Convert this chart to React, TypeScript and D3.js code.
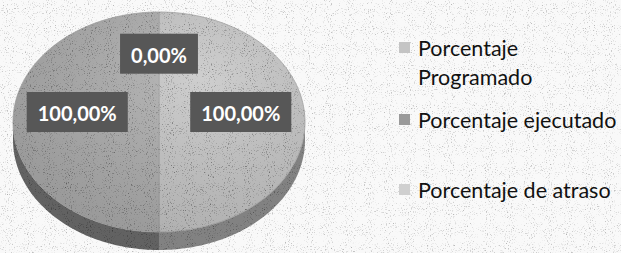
import { useEffect, useRef } from 'react';
import * as d3 from 'd3';

const categories = ['Porcentaje Programado', 'Porcentaje ejecutado', 'Porcentaje de atraso'];
const values = [100, 100, 0];
const labels = ['100,00%', '100,00%', '0,00%'];
const legendLines = [['Porcentaje', 'Programado'], ['Porcentaje ejecutado'], ['Porcentaje de atraso']];
const topColors = ['#c6c6c6', '#adadad', '#bdbdbd'];
const sideColors = ['#828282', '#626262', '#7a7a7a'];
const legendColors = ['#c4c4c4', '#9a9a9a', '#cfcfcf'];

const App = () => {
    const svgRef = useRef(null);
    const width = 621;
    const height = 253;
    const cx = 159, cy = 122, rx = 146, ry = 110, depth = 18;

    useEffect(() => {
        const svg = d3.select(svgRef.current);
        svg.selectAll('*').remove();

        const defs = svg.append('defs');
        const f = defs.append('filter').attr('id', 'noise').attr('x', 0).attr('y', 0).attr('width', '100%').attr('height', '100%');
        f.append('feTurbulence').attr('type', 'fractalNoise').attr('baseFrequency', 0.95).attr('numOctaves', 2).attr('seed', 3);
        f.append('feColorMatrix').attr('type', 'matrix')
            .attr('values', '0 0 0 0 0  0 0 0 0 0  0 0 0 0 0  -3.2 0 0 0 1.3');

        const shade = defs.append('radialGradient').attr('id', 'shade')
            .attr('cx', '0.65').attr('cy', '0.3').attr('r', '0.8');
        shade.append('stop').attr('offset', '0%').attr('stop-color', '#fff').attr('stop-opacity', 0.15);
        shade.append('stop').attr('offset', '100%').attr('stop-color', '#000').attr('stop-opacity', 0.12);

        svg.append('rect').attr('width', width).attr('height', height).attr('fill', '#f9f9f9');
        svg.append('rect').attr('width', width).attr('height', height).attr('filter', 'url(#noise)').attr('opacity', 0.3);

        const pie = d3.pie().sort(null).value(d => d);
        const arcs = pie(values);

        const px = (a, dy = 0) => [cx + rx * Math.sin(a), cy - ry * Math.cos(a) + dy];
        const arcPts = (a0, a1, dy = 0) => {
            const n = Math.max(2, Math.ceil(Math.abs(a1 - a0) / 0.02));
            return d3.range(n + 1).map(i => px(a0 + (a1 - a0) * i / n, dy));
        };
        const line = d3.line();

        const g = svg.append('g');

        // side walls (front half only)
        arcs.forEach((d, i) => {
            const s = Math.max(d.startAngle, Math.PI / 2);
            const e = Math.min(d.endAngle, Math.PI * 1.5);
            if (e <= s) return;
            const pts = arcPts(s, e).concat(arcPts(e, s, depth));
            g.append('path').attr('d', line(pts) + 'Z').attr('fill', sideColors[i]);
        });

        // top faces
        arcs.forEach((d, i) => {
            if (d.endAngle - d.startAngle <= 0) return;
            const pts = [[cx, cy]].concat(arcPts(d.startAngle, d.endAngle));
            g.append('path').attr('d', line(pts) + 'Z').attr('fill', topColors[i])
                .attr('stroke', '#a0a0a0').attr('stroke-width', 0.8);
        });
        g.append('ellipse').attr('cx', cx).attr('cy', cy).attr('rx', rx).attr('ry', ry).attr('fill', 'url(#shade)');

        // grain on the pie
        const clip = defs.append('clipPath').attr('id', 'pieclip');
        clip.append('ellipse').attr('cx', cx).attr('cy', cy).attr('rx', rx).attr('ry', ry);
        clip.append('path').attr('d', line(arcPts(Math.PI / 2, Math.PI * 1.5).concat(arcPts(Math.PI * 1.5, Math.PI / 2, depth))) + 'Z');
        g.append('rect').attr('width', width).attr('height', height).attr('filter', 'url(#noise)')
            .attr('clip-path', 'url(#pieclip)').attr('opacity', 0.45);

        // data labels
        arcs.forEach((d, i) => {
            const mid = (d.startAngle + d.endAngle) / 2;
            const k = d.endAngle - d.startAngle > 0 ? 0.56 : 0.53;
            const [lx, ly] = [cx + rx * k * Math.sin(mid), cy - ry * k * Math.cos(mid) - 9];
            const t = g.append('text').text(labels[i])
                .attr('x', lx).attr('y', ly).attr('text-anchor', 'middle').attr('dominant-baseline', 'central')
                .attr('font-family', 'Lato, sans-serif').attr('font-weight', 700).attr('font-size', 20)
                .attr('fill', '#fff');
            const bb = t.node().getBBox();
            g.insert('rect', 'text').attr('x', bb.x - 11).attr('y', bb.y - 9).attr('width', bb.width + 22).attr('height', bb.height + 16)
                .attr('fill', '#575757');
        });
        g.selectAll('text').raise();

        // legend
        const legendY = [48, 120, 190];
        const lg = svg.append('g');
        categories.forEach((c, i) => {
            lg.append('rect').attr('x', 399).attr('y', legendY[i] - 6).attr('width', 11).attr('height', 11)
                .attr('fill', legendColors[i]);
            legendLines[i].forEach((l, j) => {
                lg.append('text').text(l).attr('x', 418).attr('y', legendY[i] + j * 29)
                    .attr('dominant-baseline', 'central')
                    .attr('font-family', 'Lato, sans-serif').attr('font-size', 21.5).attr('fill', '#111');
            });
        });
    }, []);

    return (
        <div style={{ position: 'fixed', left: 0, top: 0 }}>
            <svg ref={svgRef} width={width} height={height} style={{ display: 'block' }}></svg>
        </div>
    );
};

export default App;
